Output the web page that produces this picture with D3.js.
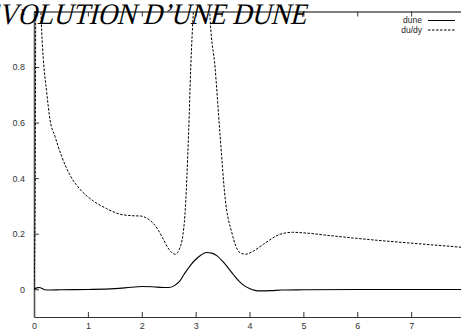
<!DOCTYPE html>
<html>
<head>
<meta charset="utf-8">
<script src="https://cdn.jsdelivr.net/npm/d3@7"></script>
<style>
  html, body { margin: 0; padding: 0; background: #fff; }
  svg { display: block; }
  .title { font-family: "Liberation Serif", "DejaVu Serif", serif; font-style: normal; font-weight: normal; }
</style>
</head>
<body>
<svg id="chart" width="461" height="334"></svg>
<script>
// Dune profile u(y)
const duneX = [0, 0.05, 0.1, 0.15, 0.2, 0.3, 0.5, 1.0, 1.5, 1.8, 2.0, 2.2, 2.4, 2.5, 2.6, 2.7, 2.8, 2.9, 3.0, 3.1, 3.2, 3.3, 3.4, 3.5, 3.6, 3.7, 3.8, 3.9, 4.0, 4.1, 4.2, 4.4, 4.6, 5, 6, 7, 8];
const duneY = [0, 0.005, 0.006, 0.003, -0.002, -0.003, -0.002, -0.001, 0.002, 0.007, 0.010, 0.009, 0.006, 0.006, 0.012, 0.028, 0.058, 0.085, 0.107, 0.123, 0.132, 0.130, 0.120, 0.101, 0.078, 0.053, 0.030, 0.013, 0.003, -0.004, -0.006, -0.005, -0.003, -0.002, -0.001, -0.001, -0.001];

// Slope du/dy
const slopeX = [0, 0.02, 0.04, 0.09, 0.12, 0.15, 0.173, 0.235, 0.297, 0.39, 0.51, 0.67, 0.854, 1.10, 1.35, 1.60, 1.8, 2.0, 2.1, 2.2, 2.3, 2.4, 2.5, 2.62, 2.71, 2.76, 2.80, 2.87, 2.91, 2.96, 3.05, 3.12, 3.2, 3.27, 3.36, 3.45, 3.55, 3.67, 3.82, 3.93, 4.05, 4.26, 4.57, 4.8, 5.0, 5.5, 6.0, 6.5, 7.0, 7.5, 8.0];
const slopeY = [0, 0.3, 1.3, 1.3, 1.05, 0.9, 0.83, 0.71, 0.61, 0.55, 0.48, 0.41, 0.36, 0.318, 0.29, 0.27, 0.265, 0.263, 0.255, 0.24, 0.215, 0.18, 0.145, 0.126, 0.15, 0.19, 0.264, 0.565, 0.80, 1.01, 1.3, 1.45, 1.3, 0.97, 0.80, 0.565, 0.324, 0.205, 0.132, 0.126, 0.135, 0.162, 0.198, 0.205, 0.203, 0.193, 0.183, 0.174, 0.166, 0.158, 0.150];

const xTicks = [0, 1, 2, 3, 4, 5, 6, 7];
const yTicks = [0, 0.2, 0.4, 0.6, 0.8, 1];
const yTickLabels = ["0", "0.2", "0.4", "0.6", "0.8", "1"];
const seriesNames = ["dune", "du/dy"];
const titleText = "ÉVOLUTION D’UNE DUNE";

const svg = d3.select("#chart");
const mLeft = 34, mRight = 465, mTop = 11.5, mBottom = 317;

const x = d3.scaleLinear().domain([0, 8]).range([mLeft, mRight]);
const y = d3.scaleLinear().domain([-0.1, 1]).range([mBottom, mTop]);

svg.append("defs").append("clipPath").attr("id", "plotclip")
  .append("rect").attr("x", mLeft).attr("y", mTop).attr("width", mRight - mLeft).attr("height", mBottom - mTop);

const tickFont = "'Liberation Sans', Arial, Helvetica, sans-serif";

// Bottom axis (ticks pointing inward)
const xAxis = d3.axisBottom(x).tickValues(xTicks).tickFormat(d3.format("d")).tickSizeInner(-5).tickSizeOuter(0).tickPadding(6);
const gx = svg.append("g").attr("transform", `translate(0,${mBottom})`).call(xAxis);
gx.select(".domain").attr("stroke", "#333").attr("stroke-width", 1.2);
gx.selectAll(".tick line").attr("stroke", "#333");
gx.selectAll(".tick text").attr("font-family", tickFont).attr("font-size", 9).attr("fill", "#333");

// Top mirror ticks
const xTop = d3.axisTop(x).tickValues(xTicks).tickFormat("").tickSizeInner(-5).tickSizeOuter(0);
const gxt = svg.append("g").attr("transform", `translate(0,${mTop})`).call(xTop);
gxt.select(".domain").attr("stroke", "#000").attr("stroke-width", 1.2);
gxt.selectAll(".tick line").attr("stroke", "#333");

// Left axis
const yAxis = d3.axisLeft(y).tickValues(yTicks).tickFormat((d, i) => yTickLabels[i]).tickSizeInner(-5).tickSizeOuter(0).tickPadding(9);
const gy = svg.append("g").attr("transform", `translate(${mLeft},0)`).call(yAxis);
gy.select(".domain").attr("stroke", "#555").attr("stroke-width", 1.6);
gy.selectAll(".tick line").attr("stroke", "#333");
gy.selectAll(".tick text").attr("font-family", tickFont).attr("font-size", 9).attr("fill", "#333");

// Curves
const plot = svg.append("g").attr("clip-path", "url(#plotclip)");
const line = d3.line().x(d => x(d[0])).y(d => y(d[1])).curve(d3.curveMonotoneX);

plot.append("path")
  .datum(duneX.map((v, i) => [v, duneY[i]]))
  .attr("d", line).attr("fill", "none").attr("stroke", "#000").attr("stroke-width", 1.1);

plot.append("path")
  .datum(slopeX.map((v, i) => [v, slopeY[i]]))
  .attr("d", line).attr("fill", "none").attr("stroke", "#000").attr("stroke-width", 1)
  .attr("stroke-dasharray", "2.5,1.5");

// Legend
const legend = svg.append("g");
seriesNames.forEach((name, i) => {
  const ly = 20.5 + i * 9.5;
  legend.append("text").attr("x", 422).attr("y", ly).attr("dy", "0.35em")
    .attr("text-anchor", "end").attr("font-family", tickFont).attr("font-size", 8.5).attr("fill", "#222").text(name);
  legend.append("line").attr("x1", 428).attr("x2", 455).attr("y1", ly).attr("y2", ly)
    .attr("stroke", "#000").attr("stroke-width", 1)
    .attr("stroke-dasharray", i === 1 ? "2.5,1.5" : null);
});

// Title, slanted by hand
svg.append("text")
  .attr("class", "title")
  .attr("transform", "translate(-18,24) skewX(-14)")
  .attr("x", 0).attr("y", 0)
  .attr("font-size", 30)
  .attr("textLength", 324).attr("lengthAdjust", "spacingAndGlyphs")
  .attr("fill", "#000")
  .text(titleText);
</script>
</body>
</html>
